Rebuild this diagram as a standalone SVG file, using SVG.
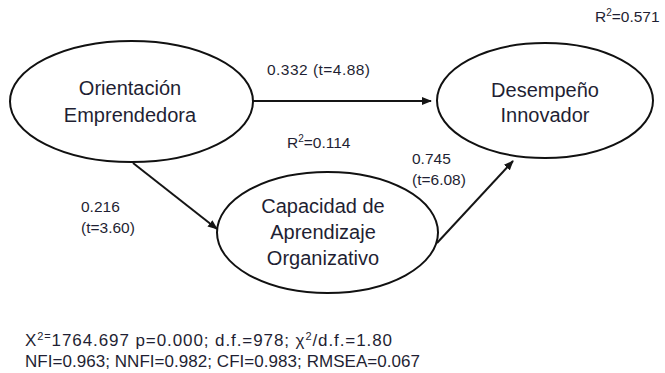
<svg xmlns="http://www.w3.org/2000/svg" width="665" height="373" viewBox="0 0 665 373">
  <style>
    .node { fill: #ffffff; stroke: #111111; stroke-width: 2; }
    .edge { fill: none; stroke: #151515; stroke-width: 2; }
    .lbl { font-family: "Liberation Sans", Arial, sans-serif; fill: #1f1f33; }
    .nlbl { font-size: 20px; text-anchor: middle; }
    .elbl { font-size: 15.5px; }
    .fit { font-size: 17px; }
  </style>
  <defs>
    <marker id="arrow" markerUnits="userSpaceOnUse" markerWidth="10" markerHeight="8" refX="9" refY="4" orient="auto">
      <path d="M0,0 L10,4 L0,8 Z" fill="#151515"/>
    </marker>
  </defs>
  <rect width="665" height="373" fill="#ffffff"/>

  <!-- connectors -->
  <g id="connectors">
    <line class="edge" x1="253" y1="101" x2="431" y2="101" marker-end="url(#arrow)"/>
    <line class="edge" x1="133" y1="163" x2="217" y2="229" marker-end="url(#arrow)"/>
    <line class="edge" x1="437" y1="243" x2="513" y2="161" marker-end="url(#arrow)"/>
  </g>

  <!-- nodes -->
  <g id="orientacion">
    <ellipse class="node" cx="131.5" cy="101.5" rx="121.5" ry="60.5"/>
    <text class="lbl nlbl" x="130" y="95">Orientación</text>
    <text class="lbl nlbl" x="130" y="122">Emprendedora</text>
  </g>
  <g id="desempeno">
    <ellipse class="node" cx="545" cy="100.5" rx="108" ry="57.5"/>
    <text class="lbl nlbl" x="545" y="97">Desempeño</text>
    <text class="lbl nlbl" x="545" y="122">Innovador</text>
  </g>
  <g id="capacidad">
    <ellipse class="node" cx="327.5" cy="232.5" rx="110.5" ry="60.5"/>
    <text class="lbl nlbl" x="323" y="213">Capacidad de</text>
    <text class="lbl nlbl" x="323" y="239">Aprendizaje</text>
    <text class="lbl nlbl" x="323" y="265">Organizativo</text>
  </g>

  <!-- path coefficients and explained variance -->
  <g id="labels">
    <text class="lbl elbl" x="267" y="75" textLength="103">0.332 (t=4.88)</text>
    <text class="lbl elbl" x="81" y="212">0.216</text>
    <text class="lbl elbl" x="81" y="233">(t=3.60)</text>
    <text class="lbl elbl" x="412" y="164">0.745</text>
    <text class="lbl elbl" x="412" y="185">(t=6.08)</text>
    <text class="lbl elbl" x="287" y="148">R<tspan font-size="10" dy="-6">2</tspan><tspan dy="6">=0.114</tspan></text>
    <text class="lbl elbl" x="595" y="22">R<tspan font-size="10" dy="-6">2</tspan><tspan dy="6">=0.571</tspan></text>
  </g>

  <!-- fit indices -->
  <g id="fit">
    <text class="lbl fit" x="25" y="346" textLength="367">X<tspan font-size="11" dy="-6">2=</tspan><tspan dy="6">1764.697 p=0.000; d.f.=978; χ</tspan><tspan font-size="11" dy="-6">2</tspan><tspan dy="6">/d.f.=1.80</tspan></text>
    <text class="lbl fit" x="25" y="367" textLength="395">NFI=0.963; NNFI=0.982; CFI=0.983; RMSEA=0.067</text>
  </g>
</svg>
